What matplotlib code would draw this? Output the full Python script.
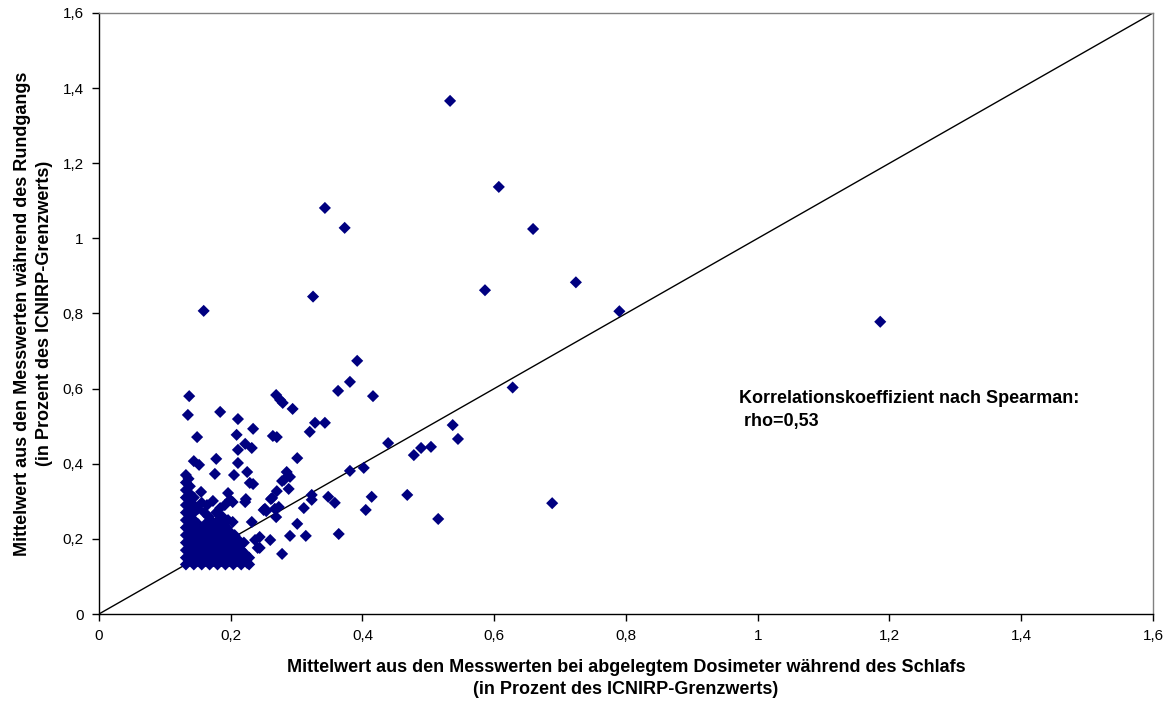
"""Scatter: Rundgang vs. Schlaf (ICNIRP-Grenzwert), mit Diagonale."""
import matplotlib
matplotlib.use("Agg")
import matplotlib.pyplot as plt

plt.rcParams["font.family"] = ["Liberation Sans", "DejaVu Sans"]

NAVY = "#000080"
GRAY = "#808080"

# sparse points
x_sparse = [0.533, 0.607, 0.659, 0.343, 0.373, 0.325, 0.724, 0.586, 0.790, 1.186,
            0.628, 0.688, 0.515, 0.537, 0.545, 0.489, 0.504, 0.478, 0.468, 0.439,
            0.392, 0.381, 0.363, 0.416, 0.269, 0.275, 0.279, 0.294, 0.328, 0.343,
            0.320, 0.264, 0.270, 0.301, 0.285, 0.290, 0.278, 0.281, 0.270, 0.288,
            0.261, 0.250, 0.252, 0.267, 0.269, 0.381, 0.402, 0.323, 0.323, 0.348,
            0.358, 0.311, 0.414, 0.405, 0.301, 0.290, 0.314, 0.364, 0.260, 0.278,
            0.244, 0.244, 0.159, 0.137, 0.135, 0.184, 0.211, 0.234, 0.149, 0.209,
            0.222, 0.211, 0.232, 0.178, 0.144, 0.152, 0.211, 0.176, 0.205, 0.225,
            0.229, 0.234, 0.155, 0.173, 0.196, 0.199, 0.223, 0.164, 0.184, 0.188,
            0.203, 0.232, 0.254, 0.263, 0.273, 0.237, 0.241, 0.209, 0.194, 0.225,
            0.191, 0.203, 0.222, 0.156]
y_sparse = [1.366, 1.137, 1.025, 1.081, 1.028, 0.845, 0.883, 0.862, 0.806, 0.778,
            0.603, 0.295, 0.253, 0.503, 0.466, 0.442, 0.445, 0.423, 0.317, 0.455,
            0.674, 0.618, 0.594, 0.580, 0.583, 0.570, 0.562, 0.546, 0.509, 0.509,
            0.485, 0.474, 0.471, 0.415, 0.378, 0.365, 0.354, 0.357, 0.327, 0.333,
            0.306, 0.277, 0.280, 0.280, 0.258, 0.381, 0.389, 0.317, 0.304, 0.312,
            0.296, 0.282, 0.312, 0.277, 0.240, 0.208, 0.208, 0.213, 0.197, 0.160,
            0.205, 0.176, 0.807, 0.580, 0.530, 0.538, 0.519, 0.493, 0.471, 0.477,
            0.453, 0.437, 0.442, 0.413, 0.407, 0.397, 0.402, 0.373, 0.370, 0.378,
            0.349, 0.346, 0.325, 0.301, 0.322, 0.304, 0.306, 0.290, 0.282, 0.258,
            0.245, 0.245, 0.274, 0.309, 0.285, 0.197, 0.176, 0.162, 0.144, 0.136,
            0.290, 0.298, 0.298, 0.296]

# dense block near the detection limit, row by row
x_dense = [0.132, 0.144, 0.156, 0.168, 0.180, 0.192, 0.204, 0.216, 0.228,
           0.138, 0.150, 0.162, 0.174, 0.186, 0.198, 0.210, 0.222,
           0.132, 0.144, 0.156, 0.168, 0.180, 0.192, 0.204, 0.216, 0.228,
           0.138, 0.150, 0.162, 0.174, 0.186, 0.198, 0.210, 0.222,
           0.132, 0.144, 0.156, 0.168, 0.180, 0.192, 0.204, 0.216,
           0.138, 0.150, 0.162, 0.174, 0.186, 0.198, 0.210,
           0.132, 0.144, 0.156, 0.168, 0.180, 0.192, 0.204, 0.220,
           0.138, 0.150, 0.162, 0.174, 0.186, 0.198, 0.210,
           0.132, 0.144, 0.156, 0.168, 0.180, 0.192, 0.206,
           0.138, 0.150, 0.162, 0.174, 0.186, 0.198,
           0.132, 0.144, 0.156, 0.168, 0.180, 0.194,
           0.138, 0.150, 0.162, 0.176, 0.188,
           0.132, 0.144, 0.170, 0.182, 0.196,
           0.138, 0.166, 0.184,
           0.132, 0.144, 0.160, 0.178,
           0.138, 0.150,
           0.132, 0.144, 0.138, 0.132, 0.144, 0.138, 0.132, 0.138, 0.132, 0.132, 0.136]
y_dense = [0.132, 0.132, 0.132, 0.132, 0.132, 0.132, 0.132, 0.132, 0.132,
           0.141, 0.141, 0.141, 0.141, 0.141, 0.141, 0.141, 0.141,
           0.150, 0.150, 0.150, 0.150, 0.150, 0.150, 0.150, 0.150, 0.150,
           0.160, 0.160, 0.160, 0.160, 0.160, 0.160, 0.160, 0.160,
           0.170, 0.170, 0.170, 0.170, 0.170, 0.170, 0.170, 0.170,
           0.180, 0.180, 0.180, 0.180, 0.180, 0.180, 0.180,
           0.190, 0.190, 0.190, 0.190, 0.190, 0.190, 0.190, 0.190,
           0.200, 0.200, 0.200, 0.200, 0.200, 0.200, 0.200,
           0.210, 0.210, 0.210, 0.210, 0.210, 0.210, 0.210,
           0.220, 0.220, 0.220, 0.220, 0.220, 0.220,
           0.230, 0.230, 0.230, 0.230, 0.230, 0.230,
           0.240, 0.240, 0.240, 0.240, 0.240,
           0.250, 0.250, 0.250, 0.250, 0.250,
           0.260, 0.260, 0.260,
           0.270, 0.270, 0.270, 0.270,
           0.280, 0.280,
           0.290, 0.290, 0.300, 0.310, 0.310, 0.320, 0.330, 0.340, 0.350, 0.370, 0.360]

ticks = [0, 0.2, 0.4, 0.6, 0.8, 1.0, 1.2, 1.4, 1.6]
tick_labels = ["0", "0,2", "0,4", "0,6", "0,8", "1", "1,2", "1,4", "1,6"]

fig = plt.figure(figsize=(11.71, 7.06), dpi=100)
ax = fig.add_axes([0.0845, 0.1303, 0.9001, 0.8513])

ax.plot([0, 1.6], [0, 1.6], color="black", linewidth=1, zorder=2)
ax.scatter(x_dense + x_sparse, y_dense + y_sparse, marker="D", s=38,
           color=NAVY, edgecolors="none", zorder=3, clip_on=False)

ax.set_xlim(0, 1.6)
ax.set_ylim(0, 1.6)
ax.set_xticks(ticks)
ax.set_xticklabels(tick_labels, fontsize=11)
ax.set_yticks(ticks)
ax.set_yticklabels(tick_labels, fontsize=11)
ax.tick_params(direction="out", length=5, width=1, pad=6)

ax.spines["left"].set_color("black")
ax.spines["bottom"].set_color("black")
ax.spines["top"].set_color(GRAY)
ax.spines["right"].set_color(GRAY)
for s in ax.spines.values():
    s.set_linewidth(1)

ax.set_xlabel("Mittelwert aus den Messwerten bei abgelegtem Dosimeter während des Schlafs\n"
              "(in Prozent des ICNIRP-Grenzwerts)",
              fontsize=13, fontweight="bold", labelpad=11, linespacing=1.4)
ax.set_ylabel("Mittelwert aus den Messwerten während des Rundgangs\n"
              "(in Prozent des ICNIRP-Grenzwerts)",
              fontsize=13, fontweight="bold", labelpad=7, linespacing=1.4)

ax.text(0.9715, 0.543, "Korrelationskoeffizient nach Spearman:\n rho=0,53",
        fontsize=13, fontweight="bold", va="center", ha="left", linespacing=1.5)

fig.savefig("out.png", dpi=100, facecolor="white")
